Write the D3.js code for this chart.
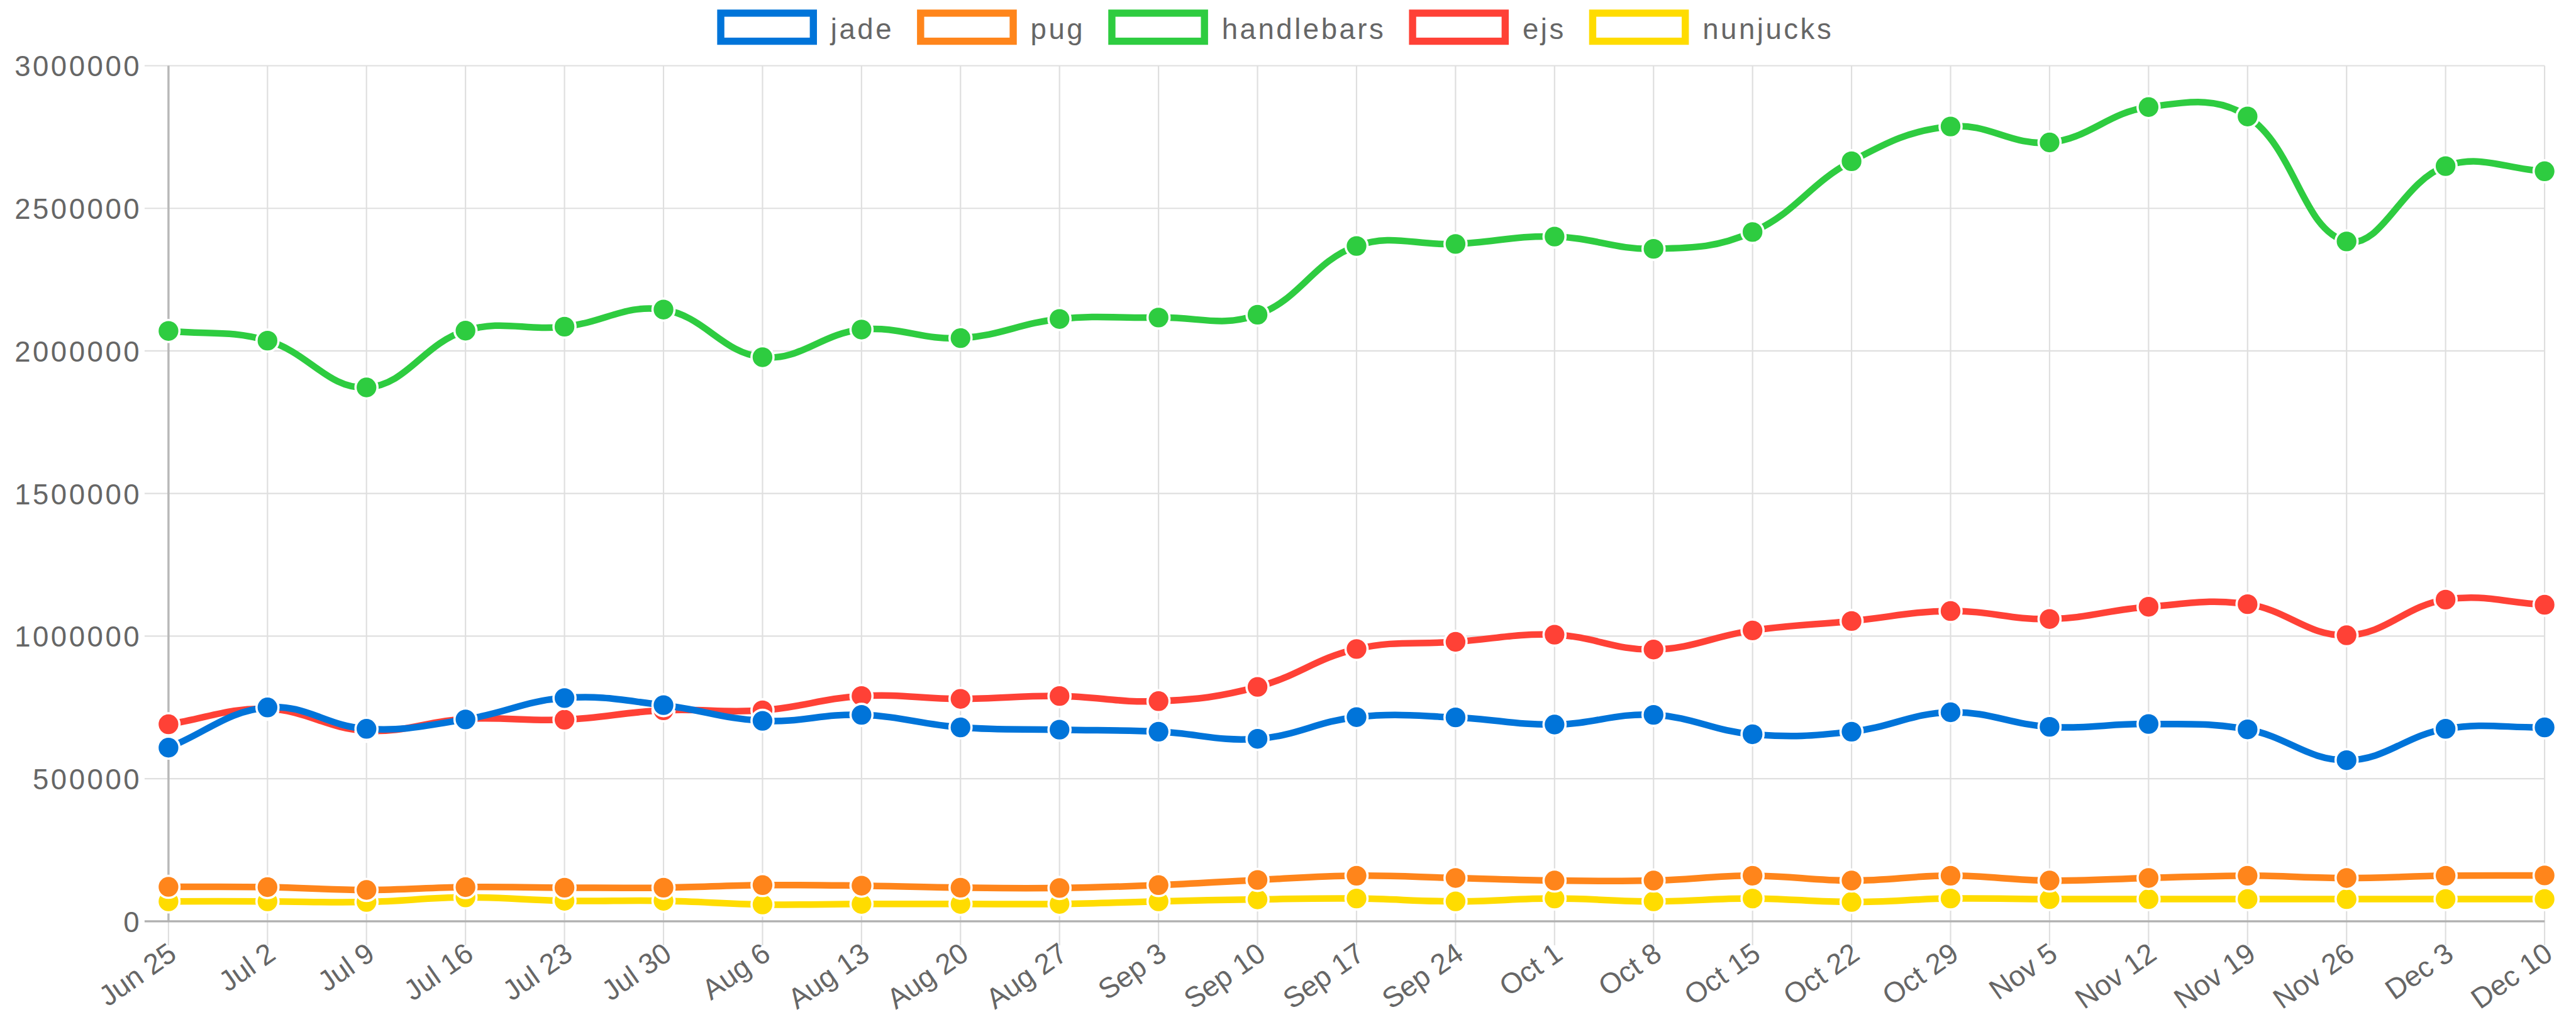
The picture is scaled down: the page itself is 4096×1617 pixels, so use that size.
<!DOCTYPE html>
<html>
<head>
<meta charset="utf-8">
<script src="https://cdn.jsdelivr.net/npm/d3@7/dist/d3.min.js"></script>
<style>
  html, body { margin: 0; padding: 0; background: #fff; }
  svg { display: block; }
  text { font-family: "Liberation Sans", Arial, Helvetica, sans-serif; fill: #666; }
</style>
</head>
<body>
<svg id="chart"></svg>
<script>
// Weekly downloads of template engines
const weeks = ["Jun 25","Jul 2","Jul 9","Jul 16","Jul 23","Jul 30","Aug 6","Aug 13","Aug 20","Aug 27",
  "Sep 3","Sep 10","Sep 17","Sep 24","Oct 1","Oct 8","Oct 15","Oct 22","Oct 29","Nov 5",
  "Nov 12","Nov 19","Nov 26","Dec 3","Dec 10"];

const jade = [609000,750000,675000,708000,783000,758000,703000,724000,680000,672000,
  665000,640000,716000,715000,690000,724000,656000,665000,733000,682000,
  692000,673000,565000,675000,680000];
const pug = [121000,120000,110000,120000,118000,118000,127000,125000,118000,117000,
  127000,145000,160000,152000,143000,143000,160000,143000,160000,143000,
  152000,160000,152000,160000,161000];
const handlebars = [2070000,2036000,1872000,2071000,2085000,2145000,1978000,2075000,2045000,2112000,
  2117000,2127000,2368000,2375000,2401000,2358000,2417000,2665000,2787000,2731000,
  2855000,2822000,2384000,2648000,2630000];
const ejs = [691000,745000,668000,710000,707000,740000,740000,790000,780000,790000,
  772000,822000,955000,980000,1005000,953000,1020000,1053000,1088000,1060000,
  1103000,1112000,1003000,1128000,1110000];
const nunjucks = [70000,70000,68000,84000,72000,72000,59000,61000,61000,61000,
  70000,77000,80000,70000,80000,70000,80000,68000,80000,78000,
  78000,78000,78000,78000,78000];

const seriesNames = ["jade","pug","handlebars","ejs","nunjucks"];
const seriesColors = ["#0074D9","#FF851B","#2ECC40","#FF4136","#FFDC00"];
const yTicks = [0,500000,1000000,1500000,2000000,2500000,3000000];

const series = [jade, pug, handlebars, ejs, nunjucks].map((values, i) => ({
  name: seriesNames[i], color: seriesColors[i], values
}));

const S = 0.95;
const W = 4096, H = 1617;
const plotLeft = 282 * S, plotRight = 4259 * S, plotTop = 110 * S, plotBottom = 1542 * S;
const tickLen = 40 * S;
const fontSize = 48 * S;
const letterSp = 3.5;
const gridColor = "#dfdfdf";

const svg = d3.select("#chart").attr("width", W).attr("height", H);

const x = d3.scalePoint().domain(weeks).range([plotLeft, plotRight]);
const y = d3.scaleLinear().domain([0, 3000000]).range([plotBottom, plotTop]);

// Tension spline with distance-weighted control points (tension 0.4)
function tensionSpline(context) {
  return {
    areaStart() {}, areaEnd() {},
    lineStart() { this.pts = []; },
    point(px, py) { this.pts.push([+px, +py]); },
    lineEnd() {
      const p = this.pts, n = p.length, t = 0.4;
      const cap = v => Math.max(plotTop, Math.min(plotBottom, v));
      const ctrl = p.map((cur, i) => {
        const prev = p[i - 1] || cur, next = p[i + 1] || cur;
        const d01 = Math.hypot(cur[0] - prev[0], cur[1] - prev[1]);
        const d12 = Math.hypot(next[0] - cur[0], next[1] - cur[1]);
        let s01 = d01 / (d01 + d12), s12 = d12 / (d01 + d12);
        if (isNaN(s01)) s01 = 0;
        if (isNaN(s12)) s12 = 0;
        const fa = t * s01, fb = t * s12;
        return {
          prev: [cur[0] - fa * (next[0] - prev[0]), cap(cur[1] - fa * (next[1] - prev[1]))],
          next: [cur[0] + fb * (next[0] - prev[0]), cap(cur[1] + fb * (next[1] - prev[1]))]
        };
      });
      context.moveTo(p[0][0], p[0][1]);
      for (let i = 1; i < n; i++) {
        context.bezierCurveTo(ctrl[i - 1].next[0], ctrl[i - 1].next[1],
          ctrl[i].prev[0], ctrl[i].prev[1], p[i][0], p[i][1]);
      }
    }
  };
}

// Grid
const grid = svg.append("g");
grid.selectAll("line.vgrid").data(weeks).join("line")
  .attr("x1", d => x(d)).attr("x2", d => x(d))
  .attr("y1", plotTop).attr("y2", plotBottom + tickLen)
  .attr("stroke", gridColor).attr("stroke-width", 2.2);
grid.selectAll("line.hgrid").data(yTicks).join("line")
  .attr("x1", plotLeft - tickLen).attr("x2", plotRight)
  .attr("y1", d => y(d)).attr("y2", d => y(d))
  .attr("stroke", gridColor).attr("stroke-width", 2.2);
// Axis borders
grid.append("line").attr("x1", plotLeft).attr("x2", plotLeft).attr("y1", plotTop).attr("y2", plotBottom)
  .attr("stroke", "#b8b8b8").attr("stroke-width", 3.4);
grid.append("line").attr("x1", plotLeft - tickLen).attr("x2", plotRight).attr("y1", plotBottom).attr("y2", plotBottom)
  .attr("stroke", "#b0b0b0").attr("stroke-width", 3.4);

// Y axis labels
const yAxis = svg.append("g").attr("transform", `translate(${plotLeft - tickLen},0)`)
  .call(d3.axisLeft(y).tickValues(yTicks).tickFormat(d3.format("d")).tickSize(0).tickPadding(5 * S));
yAxis.select(".domain").remove();
yAxis.attr("font-family", null).attr("font-size", null);
yAxis.selectAll("text")
  .attr("font-size", fontSize).attr("letter-spacing", letterSp)
  .attr("fill", "#666").attr("dy", "0.36em");

// X axis labels, rotated
const xAxis = svg.append("g").attr("transform", `translate(0,${plotBottom + tickLen})`)
  .call(d3.axisBottom(x).tickSize(0).tickPadding(0));
xAxis.select(".domain").remove();
xAxis.attr("font-family", null).attr("font-size", null);
xAxis.selectAll("text")
  .attr("font-size", fontSize)
  .attr("fill", "#666")
  .attr("text-anchor", "end").attr("dy", "0.35em").attr("y", 0)
  .attr("transform", "translate(6,7) rotate(-35)");

// Series: drawn last-to-first so the first dataset sits on top
const line = d3.line().x((d, i) => x(weeks[i])).y(d => y(d)).curve(tensionSpline);
const plot = svg.append("g");
series.slice().reverse().forEach(s => {
  const g = plot.append("g");
  g.append("path").datum(s.values).attr("d", line)
    .attr("fill", "none").attr("stroke", s.color).attr("stroke-width", 10.5);
  g.selectAll("circle").data(s.values).join("circle")
    .attr("cx", (d, i) => x(weeks[i])).attr("cy", d => y(d))
    .attr("r", 17.5).attr("fill", s.color).attr("stroke", "#fff").attr("stroke-width", 3.6);
});

// Legend
const legend = svg.append("g");
const boxW = 155 * S, boxH = 47 * S, boxStroke = 12 * S;
const textGap = 23 * S, itemGap = 45 * S;
const items = legend.selectAll("g").data(series).join("g");
items.append("rect").attr("width", boxW).attr("height", boxH)
  .attr("y", 22 * S).attr("fill", "#fff")
  .attr("stroke", d => d.color).attr("stroke-width", boxStroke);
items.append("text").text(d => d.name)
  .attr("x", boxW + boxStroke / 2 + textGap).attr("y", 65 * S)
  .attr("font-size", fontSize).attr("letter-spacing", letterSp);
const widths = [];
items.each(function () {
  widths.push(boxW + boxStroke / 2 + textGap + d3.select(this).select("text").node().getComputedTextLength());
});
const total = d3.sum(widths) + itemGap * (widths.length - 1) + boxStroke / 2;
let cursor = 2134.5 * S - total / 2 + boxStroke / 2;
items.each(function (d, i) {
  d3.select(this).attr("transform", `translate(${cursor},0)`);
  cursor += widths[i] + itemGap;
});
</script>
</body>
</html>
